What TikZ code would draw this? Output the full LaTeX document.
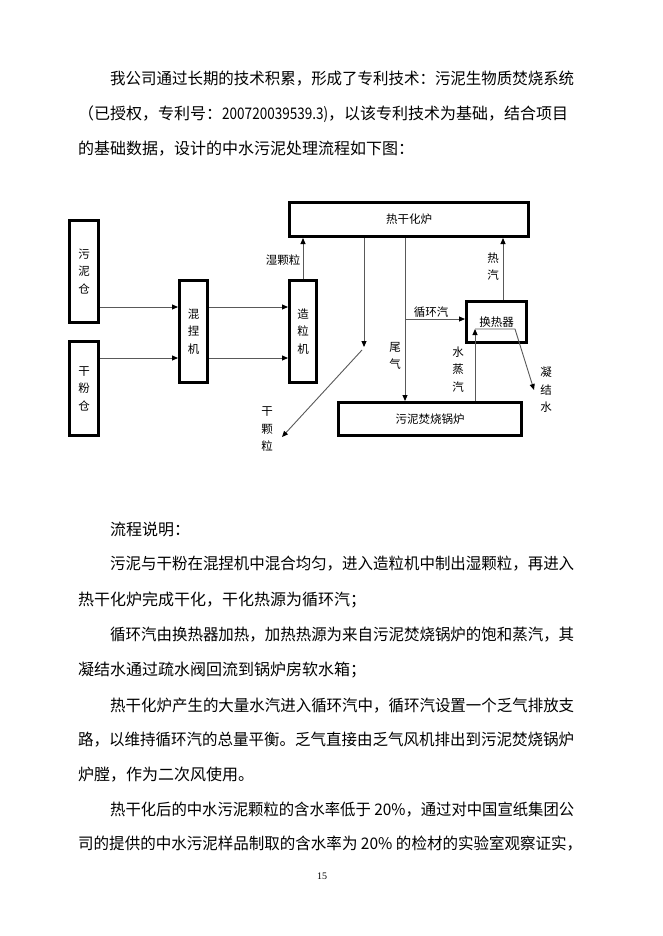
\documentclass[tikz,border=0pt]{standalone}
\usepackage{fontspec}
\usepackage{graphicx}
\setmainfont{Liberation Serif}
\newfontfamily\cjk{Noto Sans CJK SC}
\usetikzlibrary{arrows.meta}
\newsavebox\fitbox
\newcommand\fitto[2]{\sbox\fitbox{#2}\pgfmathsetmacro\fitratio{#1/\wd\fitbox}\scalebox{\fitratio}[1]{\usebox\fitbox}}
\begin{document}
\begin{tikzpicture}[x=1pt,y=-1pt,
  box/.style={draw=black, line width=3pt, fill=white, inner sep=0pt, align=center,
    font=\cjk\fontsize{11.5}{17.5}\selectfont},
  lbl/.style={inner sep=0pt, align=center, font=\cjk\fontsize{11.5}{17.5}\selectfont},
  arr/.style={draw=black!65, line width=0.9pt, -{Triangle[length=6pt,width=5pt,black]}},
  para/.style={anchor=west, inner sep=0pt, font=\cjk\fontsize{16}{18}\selectfont},
]
\useasboundingbox[fill=white] (0,0) rectangle (662,936);

% paragraph text
\node[para] (p1) at (110,79) {\fitto{464}{我公司通过长期的技术积累，形成了专利技术：污泥生物质焚烧系统}};
\node[para] (p2) at (78,114) {\fitto{490}{（已授权，专利号：\fitto{106}{200720039539.3)}，以该专利技术为基础，结合项目}};
\node[para] (p3) at (78,149) {\fitto{336}{的基础数据，设计的中水污泥处理流程如下图：}};

\node[para] (q1) at (110,529) {\fitto{80}{流程说明：}};
\node[para] (q2) at (110,564) {\fitto{464}{污泥与干粉在混捏机中混合均匀，进入造粒机中制出湿颗粒，再进入}};
\node[para] (q3) at (78,600) {\fitto{288}{热干化炉完成干化，干化热源为循环汽；}};
\node[para] (q4) at (110,635) {\fitto{464}{循环汽由换热器加热，加热热源为来自污泥焚烧锅炉的饱和蒸汽，其}};
\node[para] (q5) at (78,670) {\fitto{288}{凝结水通过疏水阀回流到锅炉房软水箱；}};
\node[para] (q6) at (110,706) {\fitto{464}{热干化炉产生的大量水汽进入循环汽中，循环汽设置一个乏气排放支}};
\node[para] (q7) at (78,740) {\fitto{496}{路，以维持循环汽的总量平衡。乏气直接由乏气风机排出到污泥焚烧锅炉}};
\node[para] (q8) at (78,775) {\fitto{176}{炉膛，作为二次风使用。}};
\node[para] (q9) at (110,810) {\fitto{464}{热干化后的中水污泥颗粒的含水率低于 20\%，通过对中国宣纸集团公}};
\node[para] (q10) at (78,844) {\fitto{504}{司的提供的中水污泥样品制取的含水率为 20\% 的检材的实验室观察证实，}};
\node[inner sep=0pt, font=\fontsize{10}{12}\selectfont] (pg) at (322,876) {15};

% boxes
\node[box, minimum width=29pt, minimum height=102pt] (wnc) at (84,271.5) {污\\泥\\仓};
\node[box, minimum width=29pt, minimum height=94pt] (gfc) at (84,388.5) {干\\粉\\仓};
\node[box, minimum width=28pt, minimum height=102pt] (hnj) at (193.5,331.5) {混\\捏\\机};
\node[box, minimum width=27pt, minimum height=102pt] (zlj) at (303,331.5) {造\\粒\\机};
\node[box, minimum width=239pt, minimum height=34pt] (rgh) at (409,219.5) {热干化炉};
\node[box, minimum width=60pt, minimum height=41pt] (hrq) at (496.5,322) {换热器};
\node[box, minimum width=183pt, minimum height=33pt] (gl) at (430,419) {污泥焚烧锅炉};

% helper coordinates
\coordinate (rowA) at (0,307);
\coordinate (rowB) at (0,358);
\coordinate (dgtip) at (364,347);
\coordinate (dgstart) at (362,350);
\coordinate (dgend) at (282,437);
\coordinate (wq) at (405,0);
\coordinate (xh) at (405,319);
\coordinate (rq) at (503,0);
\coordinate (sz) at (475,329);
\coordinate (nj1) at (515,329);
\coordinate (nj2) at (534,390);

% connectors
\draw[arr] (wnc.east |- rowA) -- (hnj.west |- rowA);
\draw[arr] (gfc.east |- rowB) -- (hnj.west |- rowB);
\draw[arr] (hnj.east |- rowA) -- (zlj.west |- rowA);
\draw[arr] (hnj.east |- rowB) -- (zlj.west |- rowB);
\draw[arr] (zlj.north) -- (zlj.north |- rgh.south);
\draw[arr] (dgtip |- rgh.south) -- (dgtip);
\draw[arr] (dgstart) -- (dgend);
\draw[arr] (wq |- rgh.south) -- (wq |- gl.north);
\draw[arr] (xh) -- (hrq.west |- xh);
\draw[arr] (rq |- hrq.north) -- (rq |- rgh.south);
\draw[arr] (sz |- gl.north) -- (sz);
\draw[arr] (sz) -- (nj1) -- (nj2);

% labels
\node[lbl] (lsk) at (283,260) {湿颗粒};
\node[lbl] (lgk) at (267,429.5) {干\\颗\\粒};
\node[lbl] (lwq) at (395,356) {尾\\气};
\node[lbl] (lxh) at (431,312) {循环汽};
\node[lbl] (lrq) at (493,266.5) {热\\汽};
\node[lbl] (lsz) at (458,369.5) {水\\蒸\\汽};
\node[lbl] (lnj) at (546,390) {凝\\结\\水};
\end{tikzpicture}
\end{document}
